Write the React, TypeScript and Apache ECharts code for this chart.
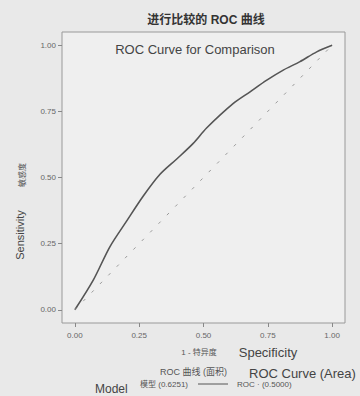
import React, { useEffect, useRef } from "react";
import * as echarts from "echarts";

const rocX = [0, 0.072, 0.136, 0.201, 0.266, 0.331, 0.396, 0.46, 0.512, 0.616, 0.681, 0.746, 0.81, 0.875, 0.94, 1.0];
const rocY = [0, 0.113, 0.238, 0.335, 0.43, 0.512, 0.57, 0.629, 0.687, 0.78, 0.824, 0.868, 0.906, 0.938, 0.975, 1.0];
const refX = [0, 1];
const refY = [0, 1];
const tickValues = [0, 0.25, 0.5, 0.75, 1.0];
const areaModel = "0.6251";
const areaRef = "0.5000";

const FONT = "'Liberation Sans', 'Noto Sans CJK SC', sans-serif";

export default function App() {
  const ref = useRef<HTMLDivElement>(null);
  useEffect(() => {
    document.body.style.margin = "0";
    const chart = echarts.init(ref.current!, null, { renderer: "svg" });
    const axisCommon = {
      type: "value" as const,
      min: -0.05,
      max: 1.05,
      splitLine: { show: false },
      axisLine: { show: false, onZero: false },
      axisTick: { show: true, length: 4, customValues: tickValues, lineStyle: { color: "#888" } },
      axisLabel: {
        customValues: tickValues,
        formatter: (v: number) => v.toFixed(2),
        fontSize: 8,
        color: "#666",
        fontFamily: FONT,
      },
    };
    chart.setOption({
      animation: false,
      backgroundColor: "#e9e9e9",
      grid: {
        left: 62,
        top: 32,
        width: 283,
        height: 291,
        show: true,
        borderColor: "#999",
        borderWidth: 1,
        backgroundColor: "#efefef",
      },
      xAxis: { ...axisCommon, axisLabel: { ...axisCommon.axisLabel, margin: 8 } },
      yAxis: { ...axisCommon, axisLabel: { ...axisCommon.axisLabel, margin: 6 } },
      series: [
        {
          type: "line",
          data: rocX.map((x, i) => [x, rocY[i]]),
          showSymbol: false,
          smooth: 0.3,
          lineStyle: { color: "#555", width: 1.6 },
        },
        {
          type: "line",
          data: refX.map((x, i) => [x, refY[i]]),
          showSymbol: false,
          lineStyle: { color: "#9a9a9a", width: 1, type: [3, 9] },
        },
      ],
      graphic: [
        { type: "text", x: 206, y: 20, style: { text: "进行比较的 ROC 曲线", fill: "#333", font: `bold 12px ${FONT}`, align: "center", verticalAlign: "middle" } },
        { type: "text", x: 195, y: 49, style: { text: "ROC Curve for Comparison", font: `13px ${FONT}`, fill: "#444", align: "center", verticalAlign: "middle" } },
        { type: "text", x: 20, y: 235, rotation: Math.PI / 2, style: { text: "Sensitivity", font: `11px ${FONT}`, fill: "#444", align: "center", verticalAlign: "middle" } },
        { type: "text", x: 22, y: 175, rotation: Math.PI / 2, style: { text: "敏感度", font: `8px ${FONT}`, fill: "#555", align: "center", verticalAlign: "middle" } },
        { type: "text", x: 199, y: 352, style: { text: "1 - 特异度", font: `8px ${FONT}`, fill: "#555", align: "center", verticalAlign: "middle" } },
        { type: "text", x: 268, y: 352, style: { text: "Specificity", font: `13px ${FONT}`, fill: "#444", align: "center", verticalAlign: "middle" } },
        { type: "text", x: 160, y: 372, style: { text: "ROC 曲线 (面积)", font: `9px ${FONT}`, fill: "#555", align: "left", verticalAlign: "middle" } },
        { type: "text", x: 249, y: 373, style: { text: "ROC Curve (Area)", font: `13px ${FONT}`, fill: "#444", align: "left", verticalAlign: "middle" } },
        { type: "text", x: 95, y: 389, style: { text: "Model", font: `12px ${FONT}`, fill: "#444", align: "left", verticalAlign: "middle" } },
        { type: "text", x: 140, y: 384, style: { text: `模型 (${areaModel})`, font: `8px ${FONT}`, fill: "#555", align: "left", verticalAlign: "middle" } },
        { type: "line", shape: { x1: 198, y1: 384, x2: 228, y2: 384 }, style: { stroke: "#555", lineWidth: 1 } },
        { type: "text", x: 237, y: 384, style: { text: `ROC · (${areaRef})`, font: `8px ${FONT}`, fill: "#555", align: "left", verticalAlign: "middle" } },
      ],
    });
    return () => chart.dispose();
  }, []);
  return <div ref={ref} style={{ position: "absolute", left: 0, top: 0, width: 360, height: 396 }} />;
}
